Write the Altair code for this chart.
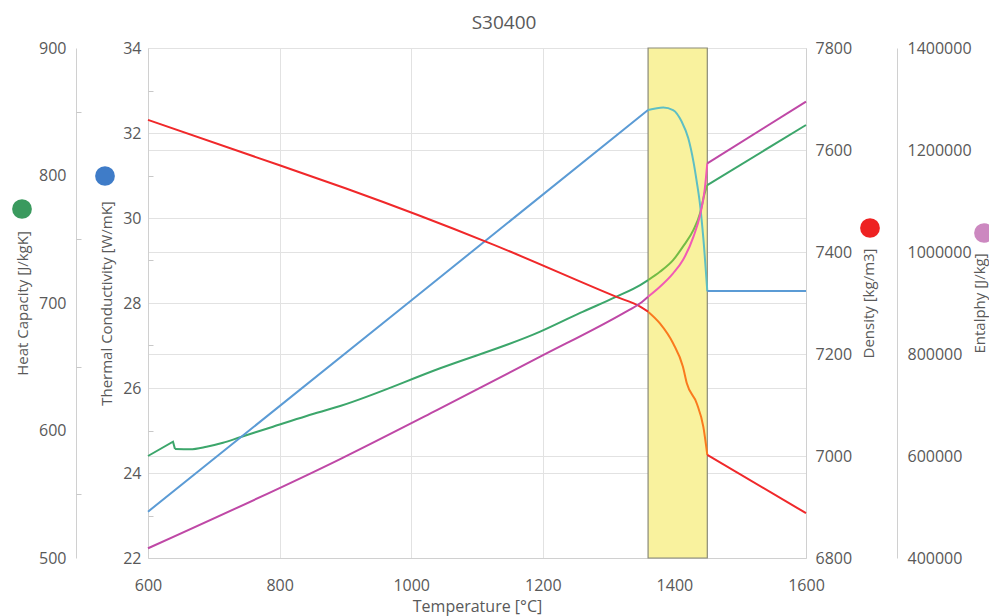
import altair as alt
import pandas as pd

chart_title = "S30400"
x_title = "Temperature [°C]"
x_ticks = [600, 800, 1000, 1200, 1400, 1600]
hc_ticks = [500, 600, 700, 800, 900]
hc_minor = [550, 650, 750, 850]
k_ticks = [22, 24, 26, 28, 30, 32, 34]
k_minor = [23, 25, 27, 29, 31, 33]
rho_ticks = [6800, 7000, 7200, 7400, 7600, 7800]
h_ticks = [400000, 600000, 800000, 1000000, 1200000, 1400000]

band_T = [1360, 1450]

# Thermal conductivity [W/mK]
k_T_main = [600, 1000, 1360]
k_main = [23.09, 28.06, 32.54]
k_T_band = [1360, 1383, 1398, 1411, 1421, 1429, 1434, 1439, 1444, 1450]
k_band = [32.54, 32.60, 32.54, 32.27, 31.88, 31.32, 30.85, 30.31, 29.52, 28.28]
k_T_after = [1450, 1600]
k_after = [28.28, 28.28]

# Heat capacity [J/kgK]
hc_T_start = [600, 638, 641]
hc_start = [580, 591.2, 585.5]
hc_T_main = [641, 664, 689, 714, 740, 790, 841, 892, 1044, 1196, 1256, 1312, 1348, 1360]
hc_main = [585.5, 585.3, 587.3, 590.4, 594.7, 603, 611.4, 619.2, 648.8, 677.5, 692, 705, 714.1, 718]
hc_T_band = [1360, 1378, 1398, 1413, 1429, 1439, 1446, 1450]
hc_band = [718, 724.5, 733.6, 744.2, 757.3, 770.4, 786.0, 792.5]
hc_T_after = [1450, 1600]
hc_after = [792.5, 839.6]

# Density [kg/m3]
rho_T_main = [600, 800, 900, 1120, 1312, 1348, 1360]
rho_main = [7659, 7570, 7525, 7417, 7312, 7293, 7283]
rho_T_band = [1360, 1378, 1398, 1413, 1419, 1434, 1444, 1450]
rho_band = [7283, 7260, 7221, 7175, 7142, 7103, 7057, 7002]
rho_T_after = [1450, 1600]
rho_after = [7002, 6888]

# Enthalpy [J/kg]
h_T_main = [600, 892, 1039, 1196, 1322, 1348, 1360]
h_main = [419000, 594000, 690000, 794700, 879800, 899400, 912400]
h_T_band = [1360, 1378, 1398, 1413, 1429, 1439, 1446, 1450]
h_band = [912400, 931900, 958200, 984300, 1030000, 1072500, 1121600, 1173900]
h_T_after = [1450, 1600]
h_after = [1173900, 1294700]

seg_names = ["k_main", "k_band", "k_after", "hc_start", "hc_main", "hc_band", "hc_after",
             "rho_main", "rho_band", "rho_after", "h_main", "h_band", "h_after"]
seg_colors = ["#5B9BD5", "#5EBFC4", "#5B9BD5", "#3CA66B", "#3CA66B", "#74BC45", "#3CA66B",
              "#F0282A", "#FA7A1E", "#F0282A", "#BF48A6", "#F25AB5", "#BF48A6"]

TXT = "#595959"
FONT = "Open Sans"
HC_DOM = [500, 900]
K_DOM = [22, 34]

color_enc = alt.Color("seg:N", scale=alt.Scale(domain=seg_names, range=seg_colors), legend=None)
x_axis = alt.Axis(values=x_ticks, title=x_title, grid=True, format="d", labelFlush=False,
                  labelPadding=19, titlePadding=5, titleFontSize=16)
x_scale = alt.Scale(domain=[600, 1600], nice=False, zero=False)


def frame(prefix, parts):
    rows = []
    for name, Ts, Vs in parts:
        for t, v in zip(Ts, Vs):
            rows.append({"T": t, "v": v, "seg": prefix + "_" + name})
    return pd.DataFrame(rows)


def line_layer(df, domain, axis, interp="monotone"):
    return alt.Chart(df).mark_line(strokeWidth=2, interpolate=interp).encode(
        x=alt.X("T:Q", scale=x_scale, axis=x_axis),
        y=alt.Y("v:Q", scale=alt.Scale(domain=domain, nice=False, zero=False), axis=axis),
        color=color_enc,
        detail="seg:N",
    )


def minor_ticks(domain, values, offset):
    return alt.Chart(pd.DataFrame({"v": values})).mark_point(opacity=0).encode(
        y=alt.Y("v:Q", scale=alt.Scale(domain=domain, nice=False, zero=False),
                axis=alt.Axis(orient="right", offset=offset, values=values, labels=False,
                              domain=False, grid=False, ticks=True, tickSize=5,
                              tickColor="#C8C8C8", title=None))
    )


band = alt.Chart(pd.DataFrame({"T0": [band_T[0]], "T1": [band_T[1]]})).mark_rect(
    fill="#F9F29E", stroke="#8A8A78", strokeWidth=1.2
).encode(x=alt.X("T0:Q", scale=x_scale, axis=x_axis), x2="T1:Q")

hc_layer = line_layer(
    frame("hc", [("main", hc_T_main, hc_main), ("band", hc_T_band, hc_band), ("after", hc_T_after, hc_after)]),
    HC_DOM,
    alt.Axis(orient="left", offset=72, values=hc_ticks, grid=False, title="Heat Capacity [J/kgK]",
             labelPadding=10, titlePadding=8),
)
hc_start_layer = line_layer(frame("hc", [("start", hc_T_start, hc_start)]), HC_DOM, None, "linear")
k_layer = line_layer(
    frame("k", [("main", k_T_main, k_main), ("band", k_T_band, k_band), ("after", k_T_after, k_after)]),
    K_DOM,
    alt.Axis(orient="left", offset=0, values=k_ticks, grid=True, title="Thermal Conductivity [W/mK]",
             labelPadding=7, titlePadding=8),
)
rho_layer = line_layer(
    frame("rho", [("main", rho_T_main, rho_main), ("band", rho_T_band, rho_band), ("after", rho_T_after, rho_after)]),
    [6800, 7800],
    alt.Axis(orient="right", offset=0, values=rho_ticks, grid=True, format="d", title="Density [kg/m3]",
             labelPadding=9, titlePadding=10, titleAngle=270, titleBaseline="top"),
)
h_layer = line_layer(
    frame("h", [("main", h_T_main, h_main), ("band", h_T_band, h_band), ("after", h_T_after, h_after)]),
    [400000, 1400000],
    alt.Axis(orient="right", offset=91, values=h_ticks, grid=False, format="d", title="Entalphy [J/kg]",
             labelPadding=10, titlePadding=1, titleAngle=270, titleBaseline="top"),
)

dot_df = pd.DataFrame({"d": [0]})


def dot(color, px, py):
    return alt.Chart(dot_df).mark_point(filled=True, size=390, opacity=1, color=color).encode(
        x=alt.value(px), y=alt.value(py)
    )


dots = [dot("#3A9A5E", -126, 161), dot("#3F7CC8", -43, 128), dot("#EE2222", 722, 180), dot("#CC88C0", 836, 185)]

chart = alt.layer(
    band, hc_layer, hc_start_layer, k_layer, rho_layer, h_layer,
    minor_ticks(HC_DOM, hc_minor, -730), minor_ticks(K_DOM, k_minor, -658), *dots
).resolve_scale(
    y="independent", color="shared"
).properties(
    width=658,
    height=510,
    padding={"left": 140, "top": 40, "right": 183, "bottom": 58},
    autosize=alt.AutoSizeParams(type="none"),
    title=alt.TitleParams(chart_title, fontSize=19, font=FONT, fontWeight="normal", color=TXT,
                          offset=7, dx=27, anchor="middle"),
).configure_view(stroke=None).configure_axis(
    labelFont=FONT, titleFont=FONT, labelColor=TXT, titleColor=TXT, labelFontSize=16,
    titleFontSize=15, titleFontWeight="normal", domainColor="#D0D0D0", gridColor="#E2E2E2",
    ticks=False,
)

chart.save("out.html", embed_options={"renderer": "svg", "actions": False})
